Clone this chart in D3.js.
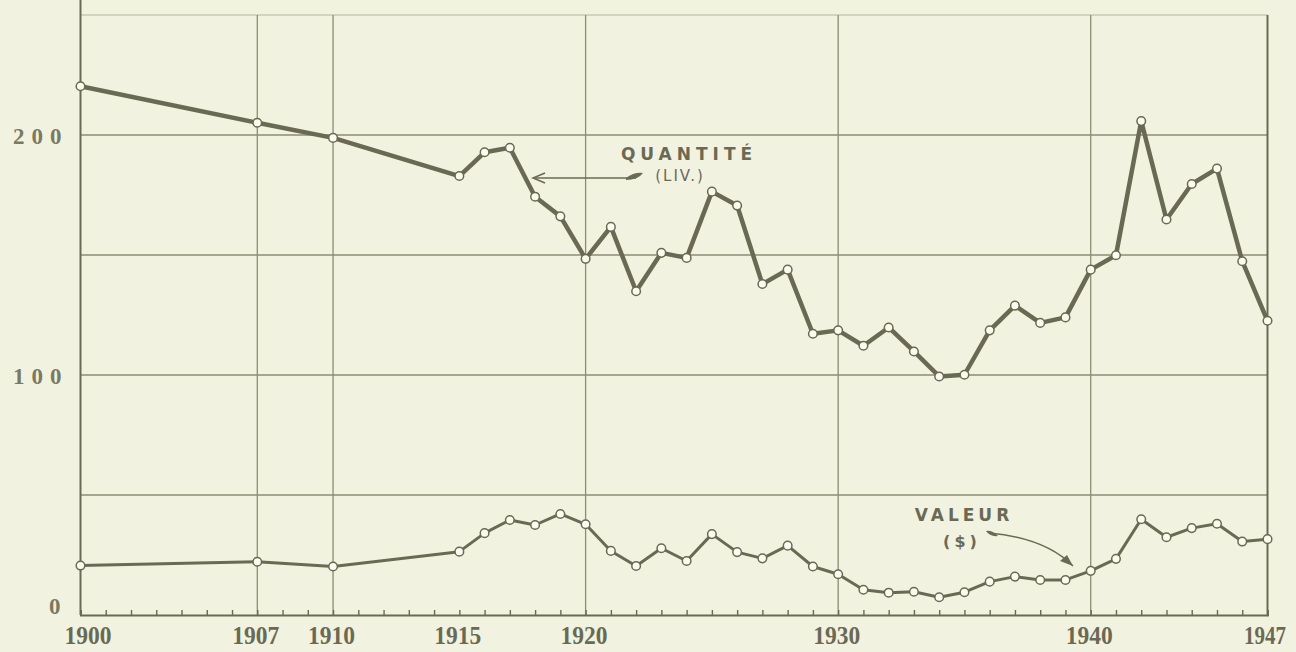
<!DOCTYPE html>
<html>
<head>
<meta charset="utf-8">
<script src="https://cdn.jsdelivr.net/npm/d3@7"></script>
<style>
  html, body { margin: 0; padding: 0; background: #f2f2e0; }
  svg { display: block; }
</style>
</head>
<body>
<svg id="chart" width="1296" height="652"></svg>
<script>
// ---- data ----
const years = [1900, 1907, 1910, 1915, 1916, 1917, 1918, 1919, 1920, 1921, 1922, 1923, 1924, 1925, 1926, 1927, 1928, 1929, 1930, 1931, 1932, 1933, 1934, 1935, 1936, 1937, 1938, 1939, 1940, 1941, 1942, 1943, 1944, 1945, 1946, 1947];
const quantite = [220.3, 205.1, 198.8, 182.9, 192.8, 194.7, 174.3, 166.1, 148.4, 161.7, 134.9, 150.9, 148.8, 176.4, 170.6, 137.9, 143.9, 117.2, 118.6, 112.2, 119.8, 109.8, 99.4, 100.1, 118.6, 128.9, 121.7, 124.0, 143.9, 149.9, 205.8, 164.8, 179.6, 186.0, 147.4, 122.6];
const valeur = [20.6, 22.2, 20.2, 26.4, 34.1, 39.6, 37.5, 42.1, 37.8, 26.7, 20.4, 27.8, 22.5, 33.7, 26.2, 23.6, 28.9, 20.2, 17.0, 10.5, 9.3, 9.7, 7.4, 9.5, 13.9, 16.0, 14.6, 14.6, 18.4, 23.4, 39.9, 32.4, 36.2, 38.0, 30.6, 31.6];
const xLabelYears = [1900, 1907, 1910, 1915, 1920, 1930, 1940, 1947];
const xGridYears = [1900, 1907, 1910, 1920, 1930, 1940, 1947];
const yGridValues = [50, 100, 150, 200, 250];
const yLabelValues = [0, 100, 200];
const minorTickYears = d3.range(1900, 1948);

// ---- styling ----
const ink = "#6a6a54";
const gridInk = "#8c8c75";
const bg = "#f2f2e0";

const svg = d3.select("#chart");
const x = d3.scaleLinear().domain([1900, 1947]).range([80.5, 1267.5]);
const y = d3.scaleLinear().domain([0, 250]).range([615, 15]);

// background
svg.append("rect").attr("width", 1296).attr("height", 652).attr("fill", bg);

// horizontal grid
svg.append("g").selectAll("line").data(yGridValues).join("line")
  .attr("x1", x(1900)).attr("x2", x(1947))
  .attr("y1", d => y(d)).attr("y2", d => y(d))
  .attr("stroke", gridInk).attr("stroke-width", d => d === 250 ? 1 : 1.3)
  .attr("stroke-opacity", d => d === 250 ? 0.6 : 1);

// vertical grid
svg.append("g").selectAll("line").data(xGridYears).join("line")
  .attr("x1", d => x(d)).attr("x2", d => x(d))
  .attr("y1", d => d === 1900 ? 0 : y(250)).attr("y2", y(0))
  .attr("stroke", d => (d === 1900 || d === 1947) ? ink : gridInk)
  .attr("stroke-width", d => (d === 1900 || d === 1947) ? 2 : 1.3);

// minor ticks (pointing up) + baseline
const minorAxis = d3.axisTop(x).tickValues(minorTickYears).tickSize(5).tickFormat("");
const gMinor = svg.append("g").attr("transform", `translate(0,${y(0)})`).call(minorAxis);
gMinor.select(".domain").attr("stroke", ink).attr("stroke-width", 2);
gMinor.selectAll(".tick line").attr("stroke", ink).attr("stroke-width", 1.4);

// x labels
const xLabelAxis = d3.axisBottom(x).tickValues(xLabelYears).tickSize(0).tickPadding(11).tickFormat(d3.format("d"));
const gX = svg.append("g").attr("transform", `translate(0,${y(0)})`).call(xLabelAxis);
gX.select(".domain").remove();
gX.selectAll(".tick text")
  .attr("font-family", "Liberation Serif, serif")
  .attr("font-weight", "bold")
  .attr("font-size", 26)
  .attr("fill", ink)
  .attr("dx", d => d === 1900 ? 7 : (d === 1947 ? -3 : -2))
  .attr("textLength", d => d === 1947 ? 42 : 47)
  .attr("lengthAdjust", "spacingAndGlyphs");

// y labels
const yLabelAxis = d3.axisLeft(y).tickValues(yLabelValues).tickSize(0).tickPadding(19).tickFormat(d3.format("d"));
const gY = svg.append("g").attr("transform", `translate(${x(1900)},0)`).call(yLabelAxis);
gY.select(".domain").remove();
gY.selectAll(".tick text")
  .attr("font-family", "Liberation Serif, serif")
  .attr("font-weight", "bold")
  .attr("font-size", 23)
  .attr("fill", "#7a7a62")
  .attr("letter-spacing", 7)
  .attr("dy", d => d === 0 ? "-0.05em" : "0.38em")
  .attr("dx", d => d === 0 ? 6 : 7);

// lines
const line = d3.line().x((d, i) => x(years[i])).y(d => y(d));
svg.append("path").datum(quantite).attr("d", line)
  .attr("fill", "none").attr("stroke", ink).attr("stroke-width", 4.5).attr("stroke-linejoin", "round");
svg.append("path").datum(valeur).attr("d", line)
  .attr("fill", "none").attr("stroke", ink).attr("stroke-width", 3).attr("stroke-linejoin", "round");

// markers
[quantite, valeur].forEach(series => {
  svg.append("g").selectAll("circle").data(series).join("circle")
    .attr("cx", (d, i) => x(years[i])).attr("cy", d => y(d))
    .attr("r", 4.3).attr("fill", "#fbfbef").attr("stroke", ink).attr("stroke-width", 1.5);
});

// annotations
svg.append("text").attr("x", 689).attr("y", 160).attr("text-anchor", "middle")
  .attr("font-family", "DejaVu Sans, sans-serif").attr("font-size", 17).attr("font-weight", "bold")
  .attr("letter-spacing", 5).attr("fill", ink).text("QUANTITÉ");
svg.append("text").attr("x", 680).attr("y", 181).attr("text-anchor", "middle")
  .attr("font-family", "DejaVu Sans, sans-serif").attr("font-size", 15)
  .attr("letter-spacing", 2).attr("fill", ink).text("(LIV.)");

// quantité arrow
svg.append("line").attr("x1", 533).attr("y1", 178).attr("x2", 636).attr("y2", 178)
  .attr("stroke", ink).attr("stroke-width", 1.5);
svg.append("path").attr("d", "M545,173 L533,178 L545,183")
  .attr("fill", "none").attr("stroke", ink).attr("stroke-width", 1.5);
svg.append("path").attr("d", "M626,178 Q634,172 643,173 Q638,180 626,180 Z")
  .attr("fill", ink);

svg.append("text").attr("x", 964).attr("y", 521).attr("text-anchor", "middle")
  .attr("font-family", "DejaVu Sans, sans-serif").attr("font-size", 17).attr("font-weight", "bold")
  .attr("letter-spacing", 4).attr("fill", ink).text("VALEUR");
svg.append("text").attr("x", 962).attr("y", 547).attr("text-anchor", "middle")
  .attr("font-family", "DejaVu Sans, sans-serif").attr("font-size", 16).attr("font-weight", "bold")
  .attr("letter-spacing", 4).attr("fill", ink).text("($)");

// valeur curved arrow
svg.append("path").attr("d", "M989,533 Q1045,538 1073,566")
  .attr("fill", "none").attr("stroke", ink).attr("stroke-width", 1.5);
svg.append("path").attr("d", "M1073,566 L1060,561 L1067,555 Z").attr("fill", ink);
svg.append("path").attr("d", "M986,531 Q992,530 998,536 Q990,537 986,531 Z").attr("fill", ink);
</script>
</body>
</html>
